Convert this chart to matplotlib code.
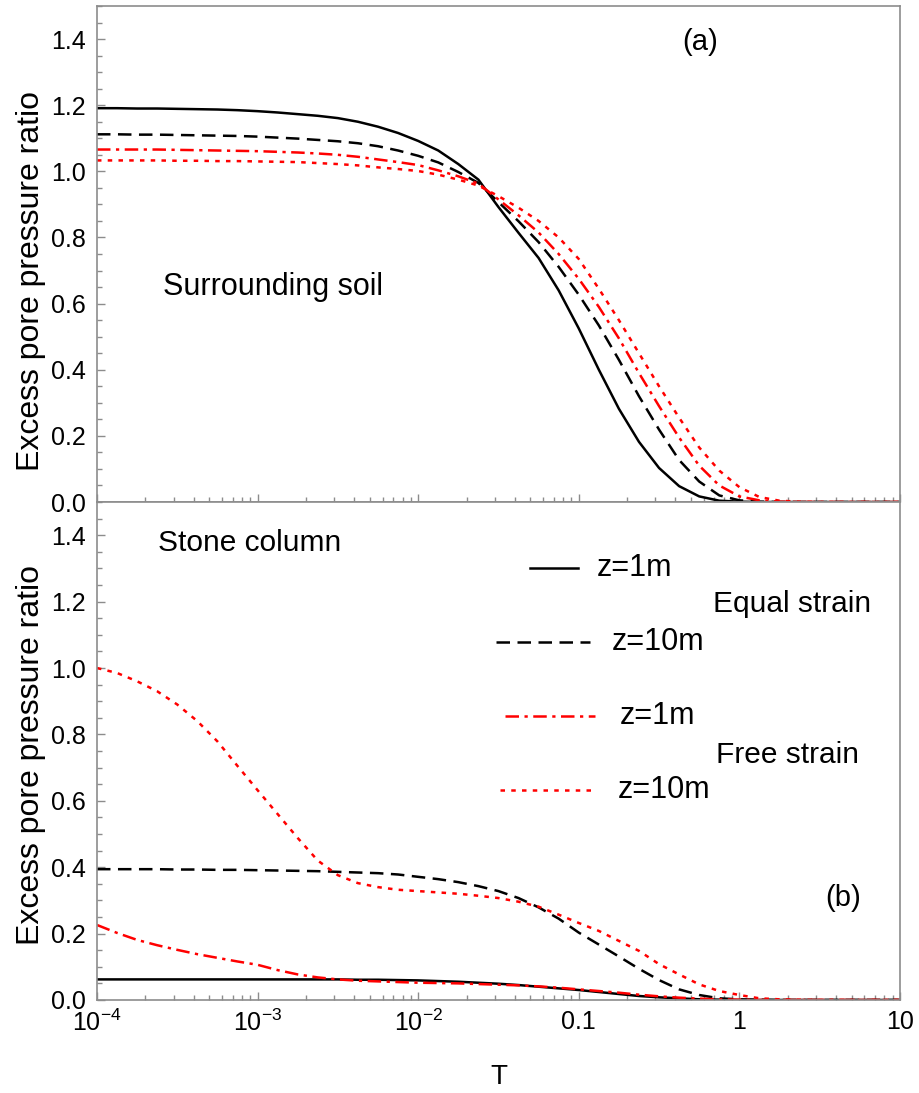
import matplotlib
matplotlib.use('Agg')
import matplotlib.pyplot as plt
from matplotlib.ticker import FixedLocator, LogLocator, NullFormatter, MultipleLocator

plt.rcParams['font.family'] = ['Liberation Sans', 'DejaVu Sans']
plt.rcParams['mathtext.fontset'] = 'custom'
plt.rcParams['mathtext.rm'] = 'Liberation Sans'
plt.rcParams['mathtext.it'] = 'Liberation Sans'

# time factor T: eighth-decade steps from 1e-4 to 10^0.5, then 10^0.75 and 10
T = [1.000e-4, 1.334e-4, 1.778e-4, 2.371e-4, 3.162e-4, 4.217e-4, 5.623e-4, 7.499e-4,
     1.000e-3, 1.334e-3, 1.778e-3, 2.371e-3, 3.162e-3, 4.217e-3, 5.623e-3, 7.499e-3,
     0.01000, 0.01334, 0.01778, 0.02371, 0.03162, 0.04217, 0.05623, 0.07499,
     0.1000, 0.1334, 0.1778, 0.2371, 0.3162, 0.4217, 0.5623, 0.7499,
     1.000, 1.334, 1.778, 2.371, 3.162, 5.623, 10.0]

# (a) surrounding soil
soil_eq_z1 = [1.191, 1.191, 1.190, 1.190, 1.189, 1.188, 1.187, 1.185,
              1.182, 1.178, 1.173, 1.168, 1.161, 1.150, 1.135, 1.116,
              1.092, 1.063, 1.022, 0.975, 0.892, 0.814, 0.738, 0.640,
              0.525, 0.400, 0.282, 0.182, 0.103, 0.048, 0.017, 0.004,
              0.001, 0, 0, 0, 0, 0, 0]
soil_eq_z10 = [1.112, 1.112, 1.111, 1.111, 1.110, 1.109, 1.108, 1.107,
               1.105, 1.102, 1.099, 1.095, 1.091, 1.085, 1.076, 1.063,
               1.047, 1.027, 0.998, 0.965, 0.907, 0.849, 0.786, 0.711,
               0.627, 0.534, 0.430, 0.320, 0.219, 0.127, 0.062, 0.020,
               0.005, 0.001, 0, 0, 0, 0, 0]
soil_fr_z1 = [1.066, 1.066, 1.066, 1.066, 1.065, 1.064, 1.063, 1.062,
              1.061, 1.059, 1.057, 1.054, 1.050, 1.044, 1.036, 1.028,
              1.019, 1.003, 0.985, 0.963, 0.915, 0.867, 0.815, 0.750,
              0.675, 0.590, 0.495, 0.390, 0.290, 0.195, 0.110, 0.050,
              0.017, 0.005, 0.001, 0, 0, 0, 0]
soil_fr_z10 = [1.033, 1.033, 1.033, 1.033, 1.032, 1.032, 1.031, 1.031,
               1.030, 1.029, 1.028, 1.025, 1.022, 1.018, 1.012, 1.007,
               1.001, 0.990, 0.975, 0.957, 0.925, 0.890, 0.850, 0.800,
               0.735, 0.645, 0.550, 0.450, 0.350, 0.255, 0.165, 0.095,
               0.045, 0.015, 0.004, 0.001, 0, 0, 0]

# (b) stone column
col_eq_z1 = [0.062, 0.062, 0.062, 0.062, 0.062, 0.062, 0.062, 0.062,
             0.062, 0.062, 0.062, 0.062, 0.062, 0.061, 0.061, 0.060,
             0.059, 0.057, 0.055, 0.052, 0.049, 0.045, 0.040, 0.035,
             0.030, 0.024, 0.018, 0.012, 0.008, 0.005, 0.002, 0.001,
             0, 0, 0, 0, 0, 0, 0]
col_eq_z10 = [0.394, 0.394, 0.394, 0.394, 0.393, 0.393, 0.392, 0.392,
              0.391, 0.390, 0.389, 0.388, 0.386, 0.384, 0.382, 0.378,
              0.371, 0.364, 0.355, 0.343, 0.328, 0.307, 0.279, 0.245,
              0.203, 0.167, 0.131, 0.094, 0.060, 0.032, 0.015, 0.005,
              0.002, 0.001, 0, 0, 0, 0, 0]
col_fr_z1 = [0.226, 0.202, 0.181, 0.165, 0.151, 0.138, 0.127, 0.116,
             0.106, 0.090, 0.077, 0.068, 0.062, 0.058, 0.056, 0.054,
             0.052, 0.051, 0.050, 0.048, 0.046, 0.044, 0.041, 0.037,
             0.032, 0.027, 0.022, 0.016, 0.011, 0.007, 0.004, 0.002,
             0.001, 0, 0, 0, 0, 0, 0]
col_fr_z10 = [1.000, 0.985, 0.960, 0.930, 0.890, 0.840, 0.779, 0.705,
              0.632, 0.560, 0.488, 0.420, 0.376, 0.352, 0.340, 0.332,
              0.328, 0.324, 0.320, 0.314, 0.307, 0.296, 0.281, 0.257,
              0.232, 0.208, 0.178, 0.148, 0.108, 0.077, 0.047, 0.027,
              0.015, 0.005, 0.002, 0.001, 0, 0, 0]

xticks = [1e-4, 1e-3, 1e-2, 0.1, 1, 10]
xticklabels = ['$10^{-4}$', '$10^{-3}$', '$10^{-2}$', '0.1', '1', '10']
yticks = [0, 0.2, 0.4, 0.6, 0.8, 1.0, 1.2, 1.4]
yticklabels = ['0.0', '0.2', '0.4', '0.6', '0.8', '1.0', '1.2', '1.4']

styles = {
    'eq1': dict(color='black', lw=1.8, ls='-'),
    'eq10': dict(color='black', lw=1.8, ls=(0, (5.4, 3.0))),
    'fr1': dict(color='red', lw=1.8, ls=(0, (5.4, 2.2, 1.3, 2.2))),
    'fr10': dict(color='red', lw=1.8, ls=(0, (1.8, 2.5))),
}

fig = plt.figure(figsize=(9.2, 10.93), dpi=100)
ax1 = fig.add_axes([0.1054, 0.5407, 0.8728, 0.4538])
ax2 = fig.add_axes([0.1054, 0.0851, 0.8728, 0.4556], sharex=ax1)

ax1.plot(T, soil_eq_z1, **styles['eq1'])
ax1.plot(T, soil_eq_z10, **styles['eq10'])
ax1.plot(T, soil_fr_z1, **styles['fr1'])
ax1.plot(T, soil_fr_z10, **styles['fr10'])

ax2.plot(T, col_eq_z1, **styles['eq1'])
ax2.plot(T, col_eq_z10, **styles['eq10'])
ax2.plot(T, col_fr_z1, **styles['fr1'])
ax2.plot(T, col_fr_z10, **styles['fr10'])

grey = '#8c8c8c'
for ax in (ax1, ax2):
    ax.set_xscale('log')
    ax.set_xlim(1e-4, 10)
    ax.set_ylim(0, 1.5)
    ax.yaxis.set_major_locator(FixedLocator(yticks))
    ax.yaxis.set_minor_locator(MultipleLocator(0.05))
    ax.set_yticklabels(yticklabels)
    ax.xaxis.set_minor_locator(LogLocator(base=10, subs=range(2, 10)))
    ax.xaxis.set_minor_formatter(NullFormatter())
    ax.tick_params(which='both', direction='in', color=grey, labelsize=18, width=1)
    ax.tick_params(which='major', length=6)
    ax.tick_params(which='minor', length=3.5)
    ax.tick_params(axis='y', pad=8)
    for s in ax.spines.values():
        s.set_color(grey)
        s.set_linewidth(1.2)
    ax.set_ylabel('Excess pore pressure ratio', fontsize=23)

# labels sit a little off-centre in the original
ax1.yaxis.set_label_coords(-0.064, 0.445)
ax2.yaxis.set_label_coords(-0.064, 0.492)

ax2.set_xticks(xticks)
ax2.set_xticklabels(xticklabels)
ax2.tick_params(axis='x', pad=7)
plt.setp(ax1.get_xticklabels(), visible=False)
ax2.set_xlabel('T', fontsize=20, labelpad=20)

ax1.text(0.751, 0.927, '(a)', transform=ax1.transAxes, fontsize=21, ha='center', va='center')
ax1.text(0.082, 0.433, 'Surrounding soil', transform=ax1.transAxes, fontsize=22, va='center')
ax2.text(0.076, 0.918, 'Stone column', transform=ax2.transAxes, fontsize=21.5, va='center')
ax2.text(0.929, 0.205, '(b)', transform=ax2.transAxes, fontsize=21, ha='center', va='center')

# hand-placed legend inside panel (b)
legend_rows = [
    ('eq1', 0.539, 0.599, 0.867, 'z=1m', 0.623),
    ('eq10', 0.497, 0.614, 0.719, 'z=10m', 0.641),
    ('fr1', 0.508, 0.620, 0.570, 'z=1m', 0.651),
    ('fr10', 0.502, 0.618, 0.422, 'z=10m', 0.648),
]
for key, x0, x1, y, label, xt in legend_rows:
    ax2.plot([x0, x1], [y, y], transform=ax2.transAxes, **styles[key])
    ax2.text(xt, y, label, transform=ax2.transAxes, fontsize=22, va='center')
ax2.text(0.767, 0.795, 'Equal strain', transform=ax2.transAxes, fontsize=21.5, va='center')
ax2.text(0.771, 0.492, 'Free strain', transform=ax2.transAxes, fontsize=21.5, va='center')

fig.savefig('out.png', dpi=100)
